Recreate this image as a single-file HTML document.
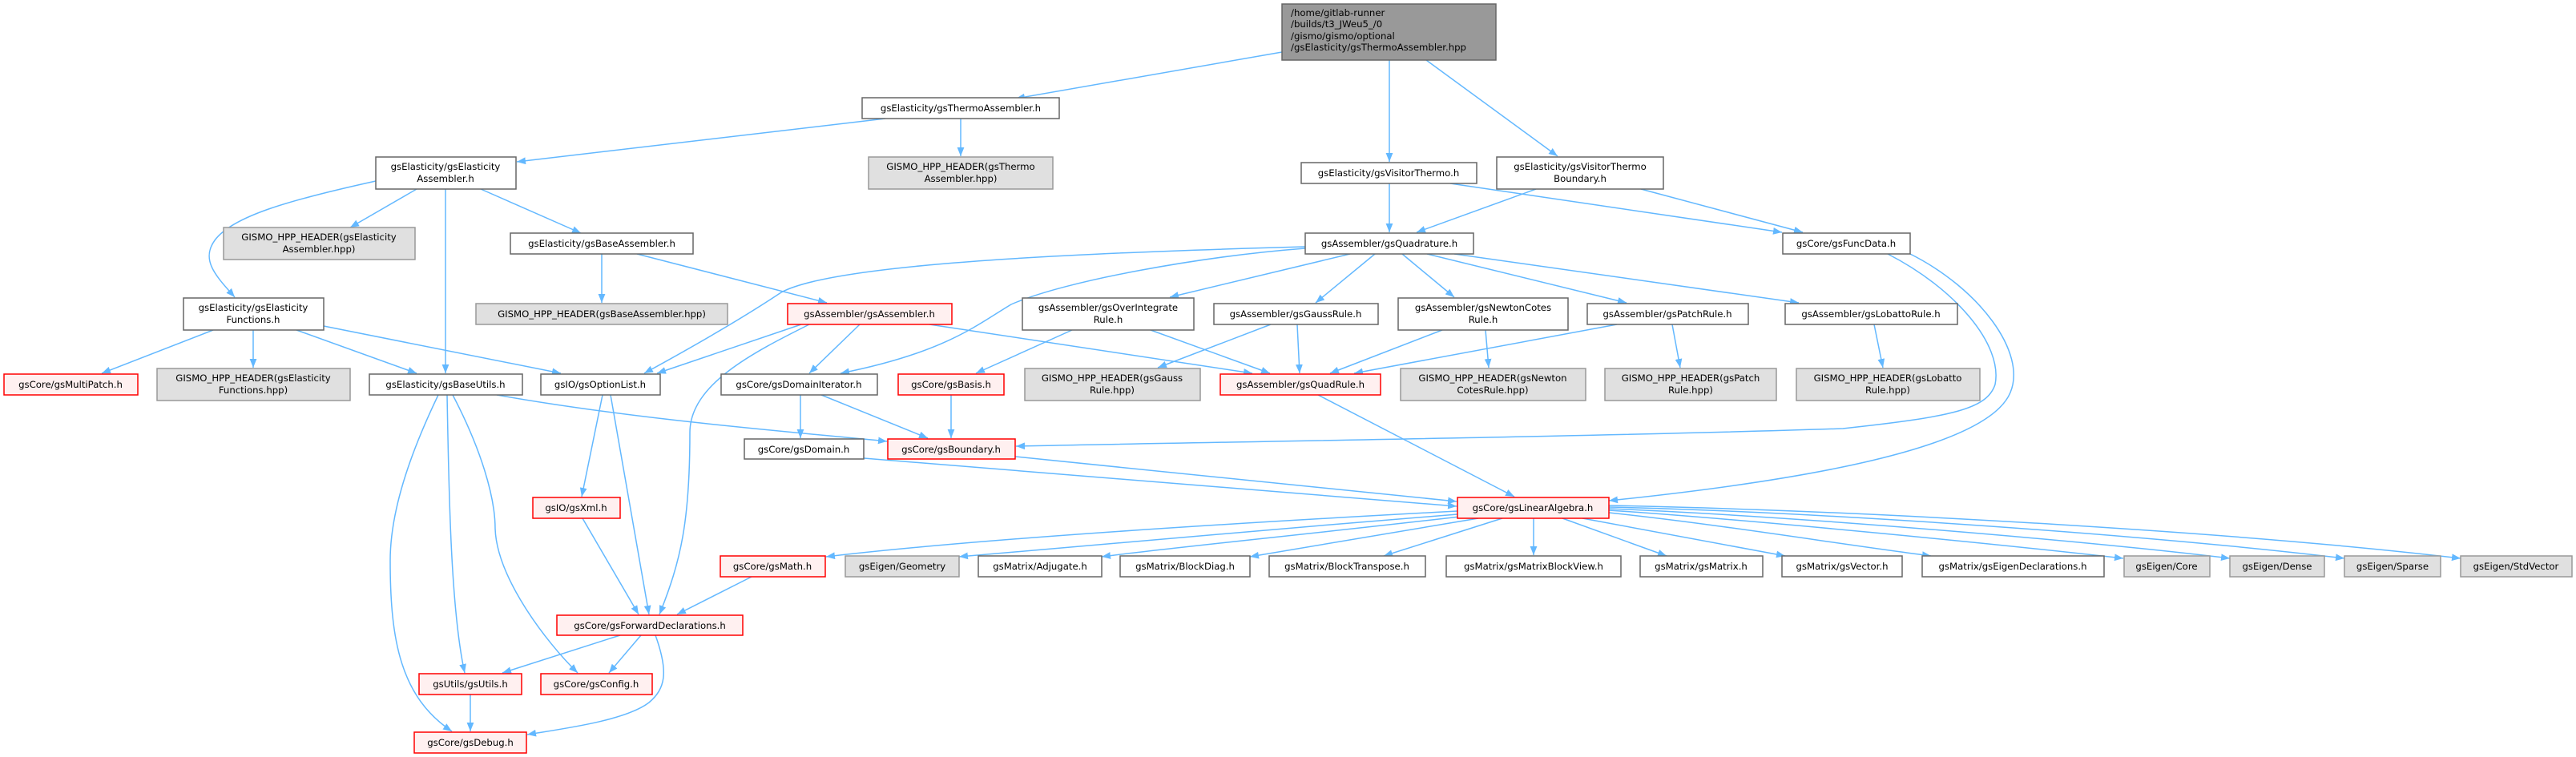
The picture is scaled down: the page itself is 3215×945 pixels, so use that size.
<!DOCTYPE html>
<html><head><meta charset="utf-8"><style>
html,body{margin:0;padding:0;background:#fff;}
svg{display:block;}
text{font-family:"DejaVu Sans","Liberation Sans",sans-serif;font-size:11.7px;fill:#000;text-anchor:middle;}
.w{fill:#fff;stroke:#666;stroke-width:1.5;}
.g{fill:#e0e0e0;stroke:#999;stroke-width:1.5;}
.r{fill:#fff0f0;stroke:#ff0000;stroke-width:1.5;}
.e{fill:none;stroke:#63b8ff;stroke-width:1.5;marker-end:url(#a);}
</style></head><body>
<svg width="3215" height="945" viewBox="0 0 3215 945" xmlns="http://www.w3.org/2000/svg">
<defs><marker id="a" viewBox="0 0 10 8" refX="10" refY="4" markerWidth="11" markerHeight="9" markerUnits="userSpaceOnUse" orient="auto"><path d="M0,0 L10,4 L0,8 z" fill="#63b8ff"/></marker></defs>

<!-- edges -->
<path class="e" d="M1600,65 L1268,123"/>
<path class="e" d="M1734,75 L1734,202"/>
<path class="e" d="M1780,75 L1944,195"/>
<path class="e" d="M1105,148 L645,202"/>
<path class="e" d="M1199,148 L1199,195"/>
<path class="e" d="M520,236 L437,284"/>
<path class="e" d="M600,236 L725,291"/>
<path class="e" d="M556,236 L556,466"/>
<path class="e" d="M469,226 C360,250 290,270 268,300 C250,325 270,345 293,371"/>
<path class="e" d="M751,317 L751,378"/>
<path class="e" d="M795,317 L1032,378"/>
<path class="e" d="M266,412 L127,466"/>
<path class="e" d="M316,412 L316,459"/>
<path class="e" d="M370,412 L520,466"/>
<path class="e" d="M404,407 L700,466"/>
<path class="e" d="M1629,308 C1250,318 1030,335 975,365 C930,395 870,430 804,466"/>
<path class="e" d="M1629,310 C1500,320 1330,350 1262,380 C1220,405 1180,440 1049,466"/>
<path class="e" d="M1685,317 L1460,371"/>
<path class="e" d="M1716,317 L1642,378"/>
<path class="e" d="M1750,317 L1815,371"/>
<path class="e" d="M1781,317 L2030,378"/>
<path class="e" d="M1815,317 L2245,378"/>
<path class="e" d="M1734,229 L1734,290"/>
<path class="e" d="M1917,236 L1768,290"/>
<path class="e" d="M1810,229 L2224,290"/>
<path class="e" d="M2048,236 L2250,290"/>
<path class="e" d="M2356,317 C2440,360 2500,430 2490,480 C2480,510 2440,520 2300,535 C2000,545 1500,552 1268,557"/>
<path class="e" d="M2384,317 C2470,360 2530,440 2509,490 C2480,560 2250,600 2008,625"/>
<path class="e" d="M1000,405 L820,466"/>
<path class="e" d="M1073,405 L1010,466"/>
<path class="e" d="M1160,405 L1563,466"/>
<path class="e" d="M1010,405 C940,440 861,480 861,540 C861,650 850,700 823,767"/>
<path class="e" d="M1338,412 L1218,466"/>
<path class="e" d="M1436,412 L1585,466"/>
<path class="e" d="M1586,405 L1445,459"/>
<path class="e" d="M1619,405 L1622,466"/>
<path class="e" d="M1800,412 L1660,466"/>
<path class="e" d="M1854,412 L1858,459"/>
<path class="e" d="M2018,405 L1690,466"/>
<path class="e" d="M2087,405 L2097,459"/>
<path class="e" d="M2339,405 L2350,459"/>
<path class="e" d="M1645,493 L1890,620"/>
<path class="e" d="M752,493 L726,620"/>
<path class="e" d="M762,493 L810,767"/>
<path class="e" d="M620,493 C800,525 1000,540 1107,551"/>
<path class="e" d="M1025,493 L1158,547"/>
<path class="e" d="M999,493 L999,547"/>
<path class="e" d="M558,493 C560,600 562,760 580,840"/>
<path class="e" d="M565,493 C600,560 618,620 618,660 C620,720 680,800 721,840"/>
<path class="e" d="M547,493 C510,570 487,640 487,700 C487,800 500,870 564,913"/>
<path class="e" d="M727,647 L797,767"/>
<path class="e" d="M938,720 L845,767"/>
<path class="e" d="M774,793 L627,840"/>
<path class="e" d="M800,793 L760,840"/>
<path class="e" d="M818,793 C835,840 830,860 810,877 C780,900 700,910 658,917"/>
<path class="e" d="M587,867 L587,913"/>
<path class="e" d="M1187,493 L1187,547"/>
<path class="e" d="M1267,570 L1818,626"/>
<path class="e" d="M1078,572 L1818,632"/>
<path class="e" d="M1819,638 C1500,655 1200,675 1031,695"/>
<path class="e" d="M1819,642 C1600,660 1350,680 1197,695"/>
<path class="e" d="M1822,645 C1650,665 1450,685 1375,695"/>
<path class="e" d="M1845,647 L1560,695"/>
<path class="e" d="M1875,647 L1727,694"/>
<path class="e" d="M1914,647 L1914,693"/>
<path class="e" d="M1950,647 L2080,694"/>
<path class="e" d="M1975,647 L2228,694"/>
<path class="e" d="M2008,640 C2150,655 2300,680 2410,694"/>
<path class="e" d="M2008,637 C2200,650 2500,680 2650,697"/>
<path class="e" d="M2008,635 C2250,645 2600,675 2783,697"/>
<path class="e" d="M2008,633 C2300,640 2700,670 2926,697"/>
<path class="e" d="M2008,631 C2350,638 2800,665 3071,697"/>

<!-- nodes -->
<rect x="1600" y="5" width="267" height="70" fill="#999" stroke="#666" stroke-width="1.5"/>
<text x="1611" y="20" style="text-anchor:start">/home/gitlab-runner</text>
<text x="1611" y="34" style="text-anchor:start">/builds/t3_JWeu5_/0</text>
<text x="1611" y="49" style="text-anchor:start">/gismo/gismo/optional</text>
<text x="1611" y="63" style="text-anchor:start">/gsElasticity/gsThermoAssembler.hpp</text>

<rect class="w" x="1076" y="122" width="246" height="26"/><text x="1199" y="139">gsElasticity/gsThermoAssembler.h</text>
<rect class="g" x="1084" y="196" width="230" height="40"/><text x="1199" y="212">GISMO_HPP_HEADER(gsThermo</text><text x="1199" y="227">Assembler.hpp)</text>
<rect class="w" x="1624" y="203" width="219" height="26"/><text x="1733" y="220">gsElasticity/gsVisitorThermo.h</text>
<rect class="w" x="1868" y="196" width="208" height="40"/><text x="1972" y="212">gsElasticity/gsVisitorThermo</text><text x="1972" y="227">Boundary.h</text>
<rect class="w" x="469" y="196" width="175" height="40"/><text x="556" y="212">gsElasticity/gsElasticity</text><text x="556" y="227">Assembler.h</text>
<rect class="g" x="279" y="284" width="239" height="40"/><text x="398" y="300">GISMO_HPP_HEADER(gsElasticity</text><text x="398" y="315">Assembler.hpp)</text>
<rect class="w" x="637" y="291" width="228" height="26"/><text x="751" y="308">gsElasticity/gsBaseAssembler.h</text>
<rect class="w" x="1629" y="291" width="210" height="26"/><text x="1734" y="308">gsAssembler/gsQuadrature.h</text>
<rect class="w" x="2225" y="291" width="159" height="26"/><text x="2304" y="308">gsCore/gsFuncData.h</text>
<rect class="w" x="229" y="372" width="175" height="40"/><text x="316" y="388">gsElasticity/gsElasticity</text><text x="316" y="403">Functions.h</text>
<rect class="g" x="594" y="379" width="314" height="26"/><text x="751" y="396">GISMO_HPP_HEADER(gsBaseAssembler.hpp)</text>
<rect class="r" x="983" y="379" width="205" height="26"/><text x="1085" y="396">gsAssembler/gsAssembler.h</text>
<rect class="w" x="1276" y="372" width="214" height="40"/><text x="1383" y="388">gsAssembler/gsOverIntegrate</text><text x="1383" y="403">Rule.h</text>
<rect class="w" x="1515" y="379" width="205" height="26"/><text x="1617" y="396">gsAssembler/gsGaussRule.h</text>
<rect class="w" x="1745" y="372" width="212" height="40"/><text x="1851" y="388">gsAssembler/gsNewtonCotes</text><text x="1851" y="403">Rule.h</text>
<rect class="w" x="1981" y="379" width="201" height="26"/><text x="2081" y="396">gsAssembler/gsPatchRule.h</text>
<rect class="w" x="2228" y="379" width="215" height="26"/><text x="2335" y="396">gsAssembler/gsLobattoRule.h</text>

<rect class="r" x="5" y="467" width="167" height="26"/><text x="88" y="484">gsCore/gsMultiPatch.h</text>
<rect class="g" x="196" y="460" width="241" height="40"/><text x="316" y="476">GISMO_HPP_HEADER(gsElasticity</text><text x="316" y="491">Functions.hpp)</text>
<rect class="w" x="461" y="467" width="191" height="26"/><text x="556" y="484">gsElasticity/gsBaseUtils.h</text>
<rect class="w" x="675" y="467" width="149" height="26"/><text x="749" y="484">gsIO/gsOptionList.h</text>
<rect class="w" x="900" y="467" width="195" height="26"/><text x="997" y="484">gsCore/gsDomainIterator.h</text>
<rect class="r" x="1121" y="467" width="132" height="26"/><text x="1187" y="484">gsCore/gsBasis.h</text>
<rect class="g" x="1279" y="460" width="219" height="40"/><text x="1388" y="476">GISMO_HPP_HEADER(gsGauss</text><text x="1388" y="491">Rule.hpp)</text>
<rect class="r" x="1523" y="467" width="200" height="26"/><text x="1623" y="484">gsAssembler/gsQuadRule.h</text>
<rect class="g" x="1748" y="460" width="231" height="40"/><text x="1863" y="476">GISMO_HPP_HEADER(gsNewton</text><text x="1863" y="491">CotesRule.hpp)</text>
<rect class="g" x="2003" y="460" width="214" height="40"/><text x="2110" y="476">GISMO_HPP_HEADER(gsPatch</text><text x="2110" y="491">Rule.hpp)</text>
<rect class="g" x="2242" y="460" width="229" height="40"/><text x="2356" y="476">GISMO_HPP_HEADER(gsLobatto</text><text x="2356" y="491">Rule.hpp)</text>

<rect class="w" x="929" y="548" width="149" height="25"/><text x="1003" y="565">gsCore/gsDomain.h</text>
<rect class="r" x="1108" y="548" width="159" height="25"/><text x="1187" y="565">gsCore/gsBoundary.h</text>
<rect class="r" x="665" y="621" width="109" height="26"/><text x="719" y="638">gsIO/gsXml.h</text>
<rect class="r" x="1819" y="621" width="189" height="26"/><text x="1913" y="638">gsCore/gsLinearAlgebra.h</text>

<rect class="r" x="899" y="694" width="131" height="26"/><text x="964" y="711">gsCore/gsMath.h</text>
<rect class="g" x="1055" y="694" width="142" height="26"/><text x="1126" y="711">gsEigen/Geometry</text>
<rect class="w" x="1221" y="694" width="154" height="26"/><text x="1298" y="711">gsMatrix/Adjugate.h</text>
<rect class="w" x="1398" y="694" width="162" height="26"/><text x="1479" y="711">gsMatrix/BlockDiag.h</text>
<rect class="w" x="1584" y="694" width="195" height="26"/><text x="1681" y="711">gsMatrix/BlockTranspose.h</text>
<rect class="w" x="1805" y="694" width="218" height="26"/><text x="1914" y="711">gsMatrix/gsMatrixBlockView.h</text>
<rect class="w" x="2047" y="694" width="153" height="26"/><text x="2123" y="711">gsMatrix/gsMatrix.h</text>
<rect class="w" x="2224" y="694" width="150" height="26"/><text x="2299" y="711">gsMatrix/gsVector.h</text>
<rect class="w" x="2399" y="694" width="227" height="26"/><text x="2512" y="711">gsMatrix/gsEigenDeclarations.h</text>
<rect class="g" x="2651" y="694" width="107" height="26"/><text x="2704" y="711">gsEigen/Core</text>
<rect class="g" x="2783" y="694" width="118" height="26"/><text x="2842" y="711">gsEigen/Dense</text>
<rect class="g" x="2926" y="694" width="120" height="26"/><text x="2986" y="711">gsEigen/Sparse</text>
<rect class="g" x="3071" y="694" width="139" height="26"/><text x="3140" y="711">gsEigen/StdVector</text>

<rect class="r" x="695" y="768" width="232" height="25"/><text x="811" y="785">gsCore/gsForwardDeclarations.h</text>
<rect class="r" x="523" y="841" width="128" height="26"/><text x="587" y="858">gsUtils/gsUtils.h</text>
<rect class="r" x="675" y="841" width="139" height="26"/><text x="744" y="858">gsCore/gsConfig.h</text>
<rect class="r" x="517" y="914" width="140" height="26"/><text x="587" y="931">gsCore/gsDebug.h</text>
</svg>
</body></html>
